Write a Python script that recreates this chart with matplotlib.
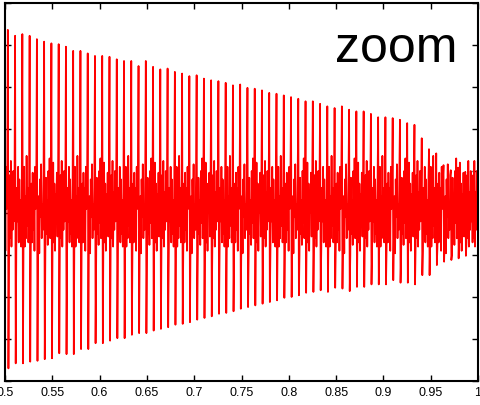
import numpy as np
import matplotlib
matplotlib.use("Agg")
import matplotlib.pyplot as plt

# heights of the big spikes, one per cycle
spike_top = [2.18, 2.11, 2.13, 2.11, 2.07, 2.04, 2.02, 2.01, 1.98, 1.93,
             1.93, 1.90, 1.87, 1.87, 1.86, 1.83, 1.81, 1.81, 1.75, 1.81,
             1.74, 1.71, 1.72, 1.68, 1.66, 1.63, 1.64, 1.60, 1.58, 1.57,
             1.55, 1.52, 1.53, 1.49, 1.48, 1.46, 1.43, 1.42, 1.40, 1.38,
             1.36, 1.33, 1.33, 1.30, 1.27, 1.25, 1.27, 1.23, 1.21, 1.21,
             1.18, 1.14, 1.14, 1.13, 1.11, 1.07, 1.05, 0.89, 0.76, 0.71,
             0.57, 0.51, 0.54, 0.49]
spike_bottom = [-1.85, -1.79, -1.79, -1.77, -1.76, -1.74, -1.73, -1.67, -1.68, -1.68,
                -1.62, -1.62, -1.55, -1.55, -1.52, -1.49, -1.49, -1.45, -1.43, -1.43,
                -1.40, -1.38, -1.36, -1.33, -1.32, -1.30, -1.27, -1.25, -1.23, -1.20,
                -1.19, -1.17, -1.14, -1.12, -1.10, -1.08, -1.06, -1.04, -1.01, -1.00,
                -0.98, -0.95, -0.94, -0.92, -0.94, -0.89, -0.90, -0.93, -0.88, -0.88,
                -0.85, -0.85, -0.85, -0.80, -0.83, -0.83, -0.85, -0.74, -0.74, -0.62,
                -0.58, -0.56, -0.54, -0.51]
# wiggles between the spikes
band_a = [-0.35, 0.45, -0.30, 0.62, -0.40, 0.25, -0.20, 0.50, -0.10, 0.30]
band_b = [-0.45, 0.30, -0.10, 0.55, -0.35, 0.40, -0.25, 0.15, -0.40, 0.35]
band_c = [-0.25, 0.55, -0.40, 0.20, -0.30, 0.68, -0.15, 0.30, -0.35, 0.10]
band_d = [-0.40, 0.35, -0.35, 0.48, -0.20, 0.30, -0.45, 0.55, 0.05, 0.40]
band_e = [-0.30, 0.20, -0.48, 0.40, -0.05, 0.58, -0.30, 0.10, -0.20, 0.45]
band_f = [-0.50, 0.42, -0.25, 0.15, -0.38, 0.50, -0.12, 0.65, -0.30, 0.20]
band_g = [-0.20, 0.60, -0.35, 0.35, -0.45, 0.22, 0.00, 0.48, -0.28, 0.38]
bands = [band_a, band_b, band_c, band_d, band_e, band_f, band_g]

xticks = [0.5, 0.55, 0.6, 0.65, 0.7, 0.75, 0.8, 0.85, 0.9, 0.95, 1.0]
xlabels = ["0.5", "0.55", "0.6", "0.65", "0.7", "0.75", "0.8", "0.85", "0.9", "0.95", "1"]
yticks = [-2, -1.5, -1, -0.5, 0, 0.5, 1, 1.5, 2, 2.5]
ylabels = ["-2", "-1.5", "-1", "-0.5", "0", "0.5", "1", "1.5", "2", "2.5"]

signal = list(band_d)
for k in range(len(spike_top)):
    signal += [spike_top[k], spike_bottom[k]] + bands[k % 7]
signal += band_a
t = np.linspace(0.4966, 1.0, len(signal))

plt.rcParams["font.family"] = ["Liberation Sans", "DejaVu Sans"]
fig = plt.figure(figsize=(4.8, 4.05), dpi=100)
ax = fig.add_axes([5 / 480, 24 / 405, 473 / 480, 378 / 405])
ax.plot(t, signal, color="#ff0000", lw=1.25)
ax.set_xlim(0.5, 1.0)
ax.set_ylim(-2, 2.5)
ax.set_xticks(xticks)
ax.set_xticklabels(xlabels)
ax.set_yticks(yticks)
ax.set_yticklabels(ylabels)
ax.tick_params(direction="in", top=True, right=True, length=4, width=1,
               labelsize=9, pad=4.5)
for s in ax.spines.values():
    s.set_linewidth(1.5)

fig.text(335 / 480, (405 - 62) / 405, "zoom", fontsize=36,
         family=["Liberation Sans", "DejaVu Sans"], va="baseline")

fig.savefig("out.png", dpi=100)
